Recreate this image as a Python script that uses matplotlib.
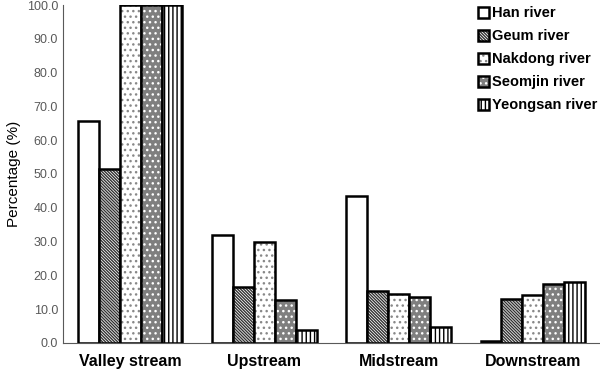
import numpy as np
import matplotlib
matplotlib.use("Agg")
import matplotlib.pyplot as plt
from matplotlib.patches import Patch

categories = ["Valley stream", "Upstream", "Midstream", "Downstream"]
rivers = ["Han river", "Geum river", "Nakdong river", "Seomjin river", "Yeongsan river"]
han = [65.6, 32.0, 43.5, 0.6]
geum = [51.6, 16.6, 15.5, 13.0]
nakdong = [100.0, 30.0, 14.6, 14.3]
seomjin = [100.0, 12.6, 13.6, 17.6]
yeongsan = [100.0, 3.7, 4.6, 18.0]

values = [han, geum, nakdong, seomjin, yeongsan]
# fill colour, hatch, hatch colour
styles = [("white", "", "black"),
          ("white", "\\" * 11, "#333333"),
          ("white", "...", "#888888"),
          ("#7f7f7f", "...", "white"),
          ("white", "|" * 4, "black")]

plt.rcParams['font.family'] = ['Liberation Sans', 'DejaVu Sans']
plt.rcParams['hatch.linewidth'] = 1.0

fig = plt.figure(figsize=(6, 3.71), dpi=100)
ax = fig.add_axes([0.105, 0.0755, 0.895, 0.911])

x = np.arange(len(categories))
w = 0.156
handles = []
for i, (vals, (fc, hatch, hc)) in enumerate(zip(values, styles)):
    pos = x + (i - 2) * w
    ax.bar(pos, vals, w, color=fc, edgecolor=hc, hatch=hatch, linewidth=0)
    ax.bar(pos, vals, w, facecolor="none", edgecolor="black", linewidth=1.8)
    handles.append((Patch(facecolor=fc, edgecolor=hc, hatch=hatch, linewidth=0),
                    Patch(facecolor="none", edgecolor="black", linewidth=1.8)))

ax.set_xlim(-0.5, 3.5)
ax.set_ylim(0, 100)
ax.set_yticks(np.arange(0, 101, 10))
ax.set_yticklabels(["%.1f" % v for v in np.arange(0, 101, 10)], fontsize=9, color="#595959")
ax.set_xticks(x)
ax.set_xticklabels(categories, fontsize=11.5, fontweight="bold")
ax.tick_params(axis="both", length=0)
ax.tick_params(axis="x", pad=8)
ax.set_ylabel("Percentage (%)", fontsize=11)

for s in ["top", "right"]:
    ax.spines[s].set_visible(False)
ax.spines["left"].set_color("#595959")
ax.spines["bottom"].set_color("#595959")

leg = ax.legend(handles, rivers, loc="upper right", bbox_to_anchor=(1.02, 1.035),
                frameon=False, prop={"weight": "bold", "size": 10.5},
                handlelength=0.75, handleheight=0.75, handletextpad=0.2,
                labelspacing=0.62)

fig.savefig("out.png", dpi=100)
